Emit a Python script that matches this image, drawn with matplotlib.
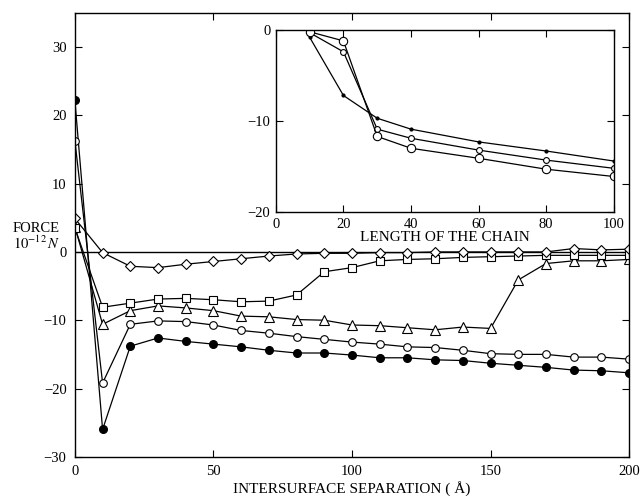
#!/usr/bin/env python3
"""
Force vs intersurface separation for several chain lengths,
with an inset of the minimum force vs chain length.
"""

import numpy as np
import matplotlib.pyplot as plt

# Main panel data (separation in Angstrom, force in 1e-12 N)
separation = [0, 10, 20, 30, 40, 50, 60, 70, 80, 90, 100, 110, 120, 130,
              140, 150, 160, 170, 180, 190, 200]

force_filled = [22.2, -26.0, -13.8, -12.6, -13.1, -13.5, -13.9, -14.4, -14.8,
                -14.8, -15.1, -15.5, -15.5, -15.8, -15.9, -16.3, -16.6, -16.9,
                -17.3, -17.4, -17.7]
force_circle = [16.3, -19.2, -10.6, -10.1, -10.2, -10.7, -11.5, -11.9, -12.4,
                -12.8, -13.2, -13.5, -13.9, -14.0, -14.4, -14.9, -15.0, -15.0,
                -15.4, -15.4, -15.7]
force_triangle = [3.7, -10.6, -8.6, -7.9, -8.2, -8.6, -9.4, -9.5, -9.9,
                  -10.0, -10.7, -10.8, -11.1, -11.4, -11.0, -11.2, -4.1, -1.7,
                  -1.3, -1.3, -1.1]
force_square = [3.5, -8.1, -7.5, -6.9, -6.8, -7.0, -7.3, -7.2, -6.3,
                -2.9, -2.3, -1.3, -1.1, -1.0, -0.8, -0.7, -0.6, -0.5,
                -0.5, -0.5, -0.5]
force_diamond = [4.9, -0.1, -2.1, -2.3, -1.8, -1.4, -1.0, -0.6, -0.3,
                 -0.2, -0.2, -0.1, -0.1, 0.0, 0.0, 0.0, 0.0, 0.0,
                 0.5, 0.3, 0.4]

# Inset data (chain length vs force)
chain_length = [10, 20, 30, 40, 60, 80, 100]
inset_small = [-0.8, -7.2, -9.7, -10.9, -12.3, -13.3, -14.4]
inset_medium = [-0.3, -2.4, -10.9, -11.9, -13.2, -14.3, -15.2]
inset_large = [-0.2, -1.2, -11.7, -13.0, -14.1, -15.3, -16.1]


def main():
    plt.rcParams.update({
        'font.family': 'serif',
        'font.serif': ['Liberation Serif', 'DejaVu Serif'],
        'mathtext.fontset': 'stix',
        'font.size': 10.5,
        'xtick.direction': 'in',
        'ytick.direction': 'in',
        'xtick.top': True,
        'ytick.right': True,
        'axes.linewidth': 1.0,
    })

    fig = plt.figure(figsize=(6.4, 4.96), dpi=100)
    ax = fig.add_axes([0.117, 0.079, 0.866, 0.895])

    lw = 0.9
    ax.axhline(0, color='black', linewidth=1.0)
    ax.plot(separation, force_filled, '-o', color='black', mfc='black',
            ms=5.5, lw=lw)
    ax.plot(separation, force_circle, '-o', color='black', mfc='white',
            ms=5.5, mew=0.8, lw=lw)
    ax.plot(separation, force_triangle, '-^', color='black', mfc='white',
            ms=7, mew=0.8, lw=lw)
    ax.plot(separation, force_square, '-s', color='black', mfc='white',
            ms=5.5, mew=0.8, lw=lw)
    ax.plot(separation, force_diamond, '-D', color='black', mfc='white',
            ms=5, mew=0.8, lw=lw)

    ax.set_xlim(0, 200)
    ax.set_ylim(-30, 35)
    ax.set_xticks([0, 50, 100, 150, 200])
    ax.set_yticks([-30, -20, -10, 0, 10, 20, 30])
    ax.set_xlabel('INTERSURFACE SEPARATION ( Å)', labelpad=2, fontsize=11)
    ax.tick_params(length=5, width=0.8, pad=6)

    fig.text(0.02, 0.54, 'FORCE', fontsize=10.5, ha='left', va='center')
    fig.text(0.02, 0.51, r'$10^{-12}\,N$', fontsize=10.5, ha='left',
             va='center')

    # Inset
    axin = fig.add_axes([0.431, 0.5726, 0.528, 0.367])
    axin.plot(chain_length, inset_small, '-o', color='black', mfc='black',
              ms=2.2, mew=0.8, lw=lw)
    axin.plot(chain_length, inset_medium, '-o', color='black', mfc='white',
              ms=4.2, mew=0.8, lw=lw)
    axin.plot(chain_length, inset_large, '-o', color='black', mfc='white',
              ms=6, mew=0.8, lw=lw)
    axin.set_xlim(0, 100)
    axin.set_ylim(-20, 0)
    axin.set_xticks([0, 20, 40, 60, 80, 100])
    axin.set_yticks([-20, -10, 0])
    axin.set_xlabel('LENGTH OF THE CHAIN', labelpad=0, fontsize=11)
    axin.tick_params(length=5, width=0.8, pad=4)

    plt.savefig('out.png', dpi=100, facecolor='white')
    plt.close()


if __name__ == "__main__":
    main()
